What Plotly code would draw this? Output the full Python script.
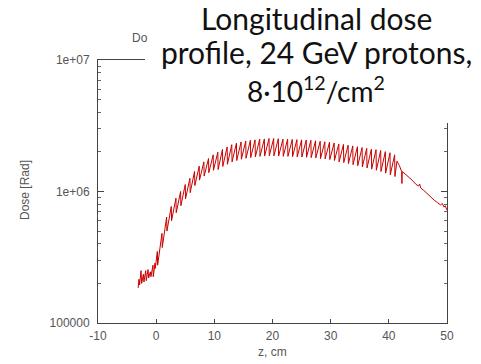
import plotly.graph_objects as go

# Longitudinal dose profile
z_cm = [
    -3.1, -2.95, -2.85, -2.6, -2.5, -2.2, -2.1, -1.8, -1.7, -1.4, -1.3, -1.0, -0.9, -0.55, -0.5, -0.2, -0.15,
    0.2, 0.25, 1.0, 1.05, 1.8, 1.85, 2.6, 2.65, 3.4, 3.45, 4.2, 4.25, 5.0, 5.05, 5.8, 5.85, 6.6, 6.65,
    7.4, 7.45, 8.2, 8.25, 9.0, 9.05, 9.8, 9.85,
    10.6, 10.65, 11.4, 11.45, 12.2, 12.25, 13.0, 13.05, 13.8, 13.85, 14.6, 14.65, 15.4, 15.45,
    16.2, 16.25, 17.0, 17.05, 17.8, 17.85, 18.6, 18.65, 19.4, 19.45,
    20.2, 20.25, 21.0, 21.05, 21.8, 21.85, 22.6, 22.65, 23.4, 23.45, 24.2, 24.25, 25.0, 25.05,
    25.8, 25.85, 26.6, 26.65, 27.4, 27.45, 28.2, 28.25, 29.0, 29.05, 29.8, 29.85,
    30.6, 30.65, 31.4, 31.45, 32.2, 32.25, 33.0, 33.05, 33.8, 33.85, 34.6, 34.65, 35.4, 35.45,
    36.2, 36.25, 37.0, 37.05, 37.8, 37.85, 38.6, 38.65, 39.4, 39.45,
    40.2, 40.25, 41.0, 41.05,
    41.4, 41.8, 42.2, 42.25, 42.3, 42.8, 43.4, 44.0, 44.6, 45.1, 45.3, 45.5, 46.0, 46.6, 47.2,
    47.8, 48.4, 48.9, 49.2, 49.5, 49.7, 50.0,
]

dose_rad = [
    1.85e5, 2.15e5, 1.95e5, 2.5e5, 2.0e5, 2.35e5, 2.05e5, 2.5e5, 2.1e5, 2.55e5, 2.2e5, 2.45e5, 2.25e5, 2.75e5, 2.25e5, 2.85e5, 2.6e5,
    3.5e5, 2.75e5, 4.8e5, 3.75e5, 6.4e5, 5.0e5, 7.7e5, 6.0e5, 8.9e5, 6.9e5, 1.0e6, 7.8e5, 1.13e6, 8.8e5, 1.26e6, 9.8e5, 1.42e6, 1.11e6,
    1.56e6, 1.22e6, 1.68e6, 1.31e6, 1.78e6, 1.39e6, 1.90e6, 1.45e6,
    1.99e6, 1.47e6, 2.09e6, 1.55e6, 2.18e6, 1.61e6, 2.27e6, 1.68e6, 2.33e6, 1.72e6, 2.38e6, 1.76e6, 2.42e6, 1.79e6,
    2.45e6, 1.81e6, 2.47e6, 1.83e6, 2.50e6, 1.85e6, 2.51e6, 1.86e6, 2.53e6, 1.87e6,
    2.53e6, 1.87e6, 2.52e6, 1.86e6, 2.50e6, 1.85e6, 2.50e6, 1.85e6, 2.49e6, 1.84e6, 2.48e6, 1.83e6, 2.47e6, 1.83e6,
    2.46e6, 1.82e6, 2.45e6, 1.81e6, 2.43e6, 1.80e6, 2.41e6, 1.78e6, 2.39e6, 1.77e6, 2.37e6, 1.75e6,
    2.34e6, 1.72e6, 2.30e6, 1.68e6, 2.28e6, 1.66e6, 2.25e6, 1.63e6, 2.22e6, 1.60e6, 2.19e6, 1.57e6, 2.16e6, 1.54e6,
    2.13e6, 1.51e6, 2.10e6, 1.48e6, 2.08e6, 1.45e6, 2.05e6, 1.42e6, 2.01e6, 1.38e6,
    1.97e6, 1.34e6, 1.90e6, 1.30e6,
    1.70e6, 1.58e6, 1.42e6, 1.15e6, 1.42e6, 1.36e6, 1.29e6, 1.22e6, 1.14e6, 1.10e6, 1.14e6, 1.06e6, 1.02e6, 9.6e5, 9.1e5,
    8.6e5, 8.2e5, 7.9e5, 8.1e5, 7.6e5, 7.8e5, 7.2e5,
]

x_ticks = [-10, 0, 10, 20, 30, 40, 50]
x_tick_text = ["-10", "0", "10", "20", "30", "40", "50"]
y_ticks = [1e5, 1e6, 1e7]
y_tick_text = ["100000", "1e+06", "1e+07"]
y_minor = [m * d for d in (1e5, 1e6) for m in range(2, 10)]

title_lines = ["Longitudinal dose", "profile, 24 GeV protons,", "8·10<sup>12</sup>/cm<sup>2</sup>"]

# page body has an 8px margin, so the figure starts at window pixel (8, 8)
OFF = 8
W, H = 481 - OFF, 364 - OFF
L, R, T, B = 98 - OFF, 481 - 447, 60 - OFF, 364 - 323
ph = H - T - B
pw = W - L - R


def py(win_pix):
    return (H - B - (win_pix - OFF)) / ph


def px(win_pix):
    return (win_pix - OFF - L) / pw


fig = go.Figure()
fig.add_trace(go.Scatter(x=z_cm, y=dose_rad, mode="lines",
                         line=dict(color="#c80000", width=1), showlegend=False))

axis_font = dict(family="Liberation Sans, Arial", size=12, color="#555555")

fig.update_layout(
    width=W, height=H,
    margin=dict(l=L, r=R, t=T, b=B),
    paper_bgcolor="white", plot_bgcolor="white",
    xaxis=dict(range=[-10, 50], tickvals=x_ticks, ticktext=x_tick_text, ticks="inside",
               ticklen=4, tickcolor="#444", showline=True, linecolor="#444", linewidth=1,
               mirror="ticks", showgrid=False, zeroline=False, tickfont=axis_font,
               ticklabelstandoff=2),
    yaxis=dict(type="log", range=[5, 7], tickvals=y_ticks, ticktext=y_tick_text,
               ticks="inside", ticklen=6, tickcolor="#444", showline=True,
               linecolor="#444", linewidth=1, mirror="ticks", showgrid=False,
               zeroline=False, tickfont=axis_font, ticklabelstandoff=5,
               minor=dict(tickvals=y_minor, ticks="inside", ticklen=3, tickcolor="#666",
                          showgrid=False)),
)

# white panel behind the slide title (covers the top frame and right axis top)
fig.add_shape(type="rect", xref="paper", yref="paper", x0=px(145), x1=1.3,
              y0=py(123), y1=py(-5), fillcolor="white", line=dict(width=0),
              layer="above")

ann = []
ann.append(dict(text="Do", x=px(130), y=py(38), xanchor="left", yanchor="middle",
                font=axis_font))
ann.append(dict(text="Dose [Rad]", x=px(25), y=py(190), textangle=-90,
                xanchor="center", yanchor="middle", font=axis_font))
ann.append(dict(text="z, cm", x=px(272), y=py(352), xanchor="center",
                yanchor="middle", font=axis_font))
for txt, ypix, fs in zip(title_lines, [18, 52, 89], [30, 30, 28]):
    ann.append(dict(text=txt, x=px(316), y=py(ypix), xanchor="center", yanchor="middle",
                    font=dict(family="Lato", size=fs, color="#111111")))
for a in ann:
    a.update(xref="paper", yref="paper", showarrow=False)
fig.update_layout(annotations=ann)

fig.write_html("out.html")
